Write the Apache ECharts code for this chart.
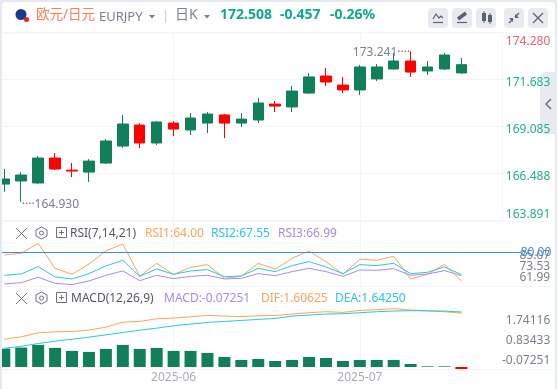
<!DOCTYPE html>
<html>
<head>
<meta charset="utf-8">
<style>html,body{margin:0;padding:0;background:#fff}#main{width:557px;height:389px}</style>
<script src="https://cdn.jsdelivr.net/npm/echarts@6/dist/echarts.min.js"></script>
</head>
<body>
<div id="main"></div>
<script>
// one entry per candle, only the month starts carry a label
var months = ['','','','','','','','','','','2025-06','','','','','','','','','','','2025-07','','','','','',''];
// open, close, low, high
var candles = [
  [165.91,166.19,165.49,166.74],[166.08,166.41,164.93,166.57],[165.97,167.35,165.91,167.46],[167.35,166.74,166.68,167.62],
  [166.68,166.63,166.30,167.07],[166.57,167.18,166.02,167.29],[167.07,168.29,167.02,168.40],[168.01,169.23,167.92,169.73],
  [169.17,168.18,167.90,169.28],[168.18,169.34,168.07,169.39],[169.28,168.95,168.56,169.39],[168.90,169.56,168.62,169.84],
  [169.28,169.78,168.73,169.89],[169.73,169.28,168.45,169.78],[169.28,169.50,169.06,169.84],[169.45,170.39,169.28,170.66],
  [170.33,170.22,169.89,170.50],[170.17,171.05,169.89,171.33],[170.94,171.83,170.90,172.05],[171.88,171.55,171.33,172.32],
  [171.38,171.11,170.94,171.83],[171.11,172.38,170.83,172.49],[171.72,172.38,171.60,172.54],[172.27,172.71,172.24,173.15],
  [172.71,172.10,171.83,173.241],[172.16,172.38,171.94,172.71],[172.27,173.04,172.21,173.15],[172.05,172.508,171.99,172.88]
];
var priceTicks = [163.891,166.488,169.085,171.683,174.280];

var rsi1 = [78.51,79.44,85.03,71.06,67.71,73.48,80.74,84.66,66.59,73.85,67.52,71.62,73.11,65.47,66.59,73.85,70.50,76.65,80.74,74.79,67.71,76.09,75.53,77.77,65.10,67.71,73.30,64.00];
var rsi2 = [67.15,67.90,71.99,66.22,65.10,68.08,72.36,75.53,66.59,70.69,67.71,69.57,70.32,66.41,66.78,71.06,69.20,72.55,74.79,71.81,68.08,73.11,72.55,73.85,68.08,68.83,71.81,67.55];
var rsi3 = [62.31,63.05,66.03,62.68,61.94,63.99,67.15,69.57,64.17,67.15,65.29,66.59,67.15,65.10,65.47,68.08,66.96,69.20,71.06,69.20,66.59,70.13,69.94,70.88,67.15,67.90,69.76,66.99];
var rsiTicks = [61.99,85.07];
var rsiMidTick = [73.53];

var dif = [0.83,0.90,1.02,1.05,1.06,1.10,1.19,1.34,1.36,1.44,1.46,1.50,1.54,1.52,1.50,1.53,1.54,1.58,1.62,1.65,1.63,1.69,1.71,1.74,1.70,1.67,1.65,1.60625];
var dea = [0.56,0.62,0.70,0.77,0.83,0.89,0.96,1.03,1.10,1.16,1.23,1.28,1.33,1.36,1.39,1.42,1.45,1.52,1.55,1.58,1.59,1.62,1.65,1.67,1.68,1.68,1.67,1.6425];
var macd = [0.55,0.58,0.66,0.57,0.48,0.45,0.54,0.66,0.54,0.57,0.48,0.48,0.42,0.30,0.21,0.24,0.18,0.21,0.30,0.27,0.18,0.21,0.21,0.21,0.09,0.02,0.02,-0.07251];
var macdTicks = [-0.07251,0.83433,1.74116];

var GREEN = '#11805a', RED = '#ff0000', GRID = '#f4f5f8', GREY = '#7c7f8e';
var ORANGE = '#ffa35c', CYAN = '#2cc6e0', PURPLE = '#a58ce8', ICON = '#5e6270';
var PRICE_UP = '#e5626f', PRICE_DN = '#1fb08f';
var FONT = '"Noto Sans","Noto Sans CJK SC",sans-serif';

function cats(n) {
  var out = months.slice();
  while (out.length < n) out.push('');
  return out;
}
function txt(s, x, y, color, size, weight) {
  return {type: 'text', z: 20, x: x, y: y, style: {text: s, fill: color, font: (weight || 'normal') + ' ' + (size || 12) + 'px ' + FONT, textVerticalAlign: 'middle'}};
}
function seg(x1, y1, x2, y2, color, w, z) {
  return {type: 'line', z: z || 3, shape: {x1: x1, y1: y1, x2: x2, y2: y2}, style: {stroke: color, lineWidth: w || 1}};
}
function box(x, y, w, h, r, fill, z) {
  return {type: 'rect', z: z || 1, shape: {x: x, y: y, width: w, height: h, r: r}, style: {fill: fill}};
}
function paneIcons(y) {
  return [
    seg(16, y - 5, 27, y + 6, '#6e7180', 1, 20), seg(27, y - 5, 16, y + 6, '#6e7180', 1, 20),
    {type: 'polygon', z: 20, shape: {points: [[41.5, y - 6], [47, y - 3], [47, y + 3], [41.5, y + 6], [36, y + 3], [36, y - 3]]}, style: {fill: 'none', stroke: '#6e7180', lineWidth: 1}},
    {type: 'circle', z: 20, shape: {cx: 41.5, cy: y, r: 2}, style: {fill: 'none', stroke: '#6e7180', lineWidth: 1}},
    {type: 'rect', z: 20, shape: {x: 56.5, y: y - 5.5, width: 10, height: 10}, style: {fill: 'none', stroke: '#6e7180', lineWidth: 1}},
    seg(59, y - 0.5, 64, y - 0.5, '#6e7180', 1, 20), seg(61.5, y - 3, 61.5, y + 2, '#6e7180', 1, 20)
  ];
}

var chrome = [
  // frame of the widget
  {type: 'rect', z: 30, shape: {x: 0, y: 0, width: 557, height: 400, r: 6}, style: {fill: 'none', stroke: '#e6e9f0', lineWidth: 4}},
  // pane separators
  seg(2, 33, 557, 33, GRID), seg(2, 221.5, 557, 221.5, GRID), seg(2, 286.5, 557, 286.5, GRID), seg(2, 369.5, 557, 369.5, GRID),
  seg(502.5, 33, 502.5, 221, GRID),
  // side tab, under the axis labels
  box(540, 72, 17, 62, [6, 0, 0, 6], '#e8eaf0', -1),
  {type: 'polyline', z: 3, shape: {points: [[551, 99], [546, 104], [551, 109]]}, style: {fill: 'none', stroke: '#6e7180', lineWidth: 1.5}},
  // header
  {type: 'circle', z: 20, shape: {cx: 21, cy: 14.5, r: 5.5}, style: {fill: '#1b3a8f'}},
  {type: 'circle', z: 20, shape: {cx: 26.5, cy: 19.5, r: 2.5}, style: {fill: '#ff1a1a'}},
  txt('欧元/日元', 36, 15.5, '#ff7d5c', 13.5),
  txt('EURJPY', 99, 17, GREY, 13),
  {type: 'polygon', z: 20, shape: {points: [[149, 15], [155, 15], [152, 18.5]]}, style: {fill: GREY}},
  seg(165.5, 10, 165.5, 23, '#c9ccd6'),
  txt('日K', 175, 15.5, GREY, 14),
  {type: 'polygon', z: 20, shape: {points: [[204, 15], [210, 15], [207, 18.5]]}, style: {fill: GREY}},
  txt('172.508', 220, 15.5, '#12a88a', 14, 'bold'),
  txt('-0.457', 280, 15.5, '#12a88a', 14, 'bold'),
  txt('-0.26%', 330, 15.5, '#12a88a', 14, 'bold'),
  // toolbar
  box(428, 8, 20, 20, 4, '#e8eaf0'), box(452, 8, 20, 20, 4, '#e8eaf0'), box(476, 8, 20, 20, 4, '#e8eaf0'),
  box(504, 8, 20, 20, 4, '#e8eaf0'), box(528, 8, 20, 20, 4, '#e8eaf0'),
  {type: 'polyline', z: 3, shape: {points: [[433, 19], [436, 14], [439, 18], [441, 16], [443, 18]]}, style: {fill: 'none', stroke: ICON, lineWidth: 1.2}},
  seg(433, 22.5, 443, 22.5, ICON, 1.2),
  seg(458, 19, 466, 13, ICON, 3.5), seg(457, 22.5, 467, 22.5, ICON, 1.2),
  box(482, 13, 4, 8, 0, ICON, 3), seg(484, 11, 484, 23, ICON), box(488, 15, 4, 7, 0, ICON, 3), seg(490, 13, 490, 24, ICON),
  seg(509, 23, 513, 19, ICON, 1.5), seg(519, 13, 515, 17, ICON, 1.5),
  {type: 'polygon', z: 3, shape: {points: [[515, 14], [515, 18], [519, 18]]}, style: {fill: ICON}},
  {type: 'polygon', z: 3, shape: {points: [[513, 22], [513, 18], [509, 18]]}, style: {fill: ICON}},
  seg(533, 13, 543, 23, ICON, 1.2), seg(543, 13, 533, 23, ICON, 1.2),
  // pane legends
  txt('RSI(7,14,21)', 70, 233.5, '#555766'),
  txt('RSI1:64.00', 145, 233.5, ORANGE), txt('RSI2:67.55', 211, 233.5, CYAN), txt('RSI3:66.99', 278, 233.5, PURPLE),
  txt('MACD(12,26,9)', 71, 298.5, '#555766'),
  txt('MACD:-0.07251', 164, 298.5, PURPLE), txt('DIF:1.60625', 261, 298.5, ORANGE), txt('DEA:1.64250', 335, 298.5, CYAN)
].concat(paneIcons(233), paneIcons(298));

var xBase = {
  type: 'category', boundaryGap: true,
  axisLine: {show: false}, axisTick: {show: false, alignWithLabel: true},
  axisLabel: {show: false},
  splitLine: {show: true, alignWithLabel: true, lineStyle: {color: GRID}, interval: function (i) { return i === 10 || i === 21; }}
};
function labelAxis(grid, lo, hi, ticks, digits, margin) {
  return {
    type: 'value', gridIndex: grid, position: 'right', min: lo, max: hi, scale: true,
    axisLine: {show: false}, axisTick: {show: false}, splitLine: {show: false},
    axisLabel: {customValues: ticks, showMinLabel: true, showMaxLabel: true, hideOverlap: false, color: GREY, fontSize: 12, fontFamily: FONT, margin: margin, align: 'right',
      formatter: function (v) { return v.toFixed(digits); }}
  };
}
function hiddenAxis(grid, lo, hi) {
  return {type: 'value', gridIndex: grid, position: 'right', min: lo, max: hi, scale: true, show: false, splitLine: {show: false}};
}
function rsiLine(name, data, color) {
  return {name: name, type: 'line', xAxisIndex: 1, yAxisIndex: 1, data: data, symbol: 'none', lineStyle: {color: color, width: 1}, z: 3};
}

var chart = echarts.init(document.getElementById('main'));
chart.setOption({
  animation: false,
  backgroundColor: '#fff',
  textStyle: {fontFamily: FONT},
  graphic: {elements: chrome},
  grid: [
    {left: -4.16, width: 507.9, top: 32.6, height: 188, outerBoundsMode: 'none'},
    {left: -4.16, width: 524.83, top: 222, height: 64, outerBoundsMode: 'none'},
    {left: -4.16, width: 507.9, top: 287, height: 83, outerBoundsMode: 'none'}
  ],
  xAxis: [
    Object.assign({}, xBase, {gridIndex: 0, data: cats(30)}),
    Object.assign({}, xBase, {gridIndex: 1, data: cats(31)}),
    Object.assign({}, xBase, {gridIndex: 2, data: cats(30),
      axisLabel: {show: true, interval: 0, color: '#a9abb8', fontSize: 12, fontFamily: FONT, margin: 2}})
  ],
  yAxis: [
    {
      type: 'value', gridIndex: 0, position: 'right', min: 163.891, max: 174.280, scale: true,
      axisLine: {show: false}, axisTick: {show: false, customValues: priceTicks},
      splitLine: {show: true, lineStyle: {color: GRID}},
      axisLabel: {
        customValues: priceTicks, fontSize: 12, fontFamily: FONT, margin: 46.5, align: 'right',
        verticalAlignMinLabel: 'bottom', verticalAlignMaxLabel: 'top',
        rich: {
          t: {color: PRICE_UP, fontSize: 12, fontFamily: FONT, padding: [3, 0, 0, 0]},
          m: {color: PRICE_DN, fontSize: 12, fontFamily: FONT, padding: [5, 0, 0, 0]},
          b: {color: PRICE_DN, fontSize: 12, fontFamily: FONT}
        },
        formatter: function (v) {
          var key = v > 174 ? 't' : (v < 164 ? 'b' : 'm');
          return '{' + key + '|' + v.toFixed(3) + '}';
        }
      }
    },
    hiddenAxis(1, 61.17, 96.93),
    labelAxis(1, 53.6, 120.8, rsiTicks, 2, 29.5),
    hiddenAxis(2, -0.0896, 2.388),
    labelAxis(2, -0.49, 3.236, macdTicks, 5, 46.5),
    // the middle RSI label gets dropped when it shares an axis with the two others
    labelAxis(1, 53.6, 120.8, rsiMidTick, 2, 29.5)
  ],
  series: [
    {
      name: 'EURJPY', type: 'candlestick', xAxisIndex: 0, yAxisIndex: 0, data: candles, barWidth: 11, z: 3,
      itemStyle: {color: GREEN, color0: RED, borderColor: GREEN, borderColor0: RED, borderWidth: 1},
      markPoint: {
        symbol: 'circle', symbolSize: 1, silent: true, itemStyle: {color: 'transparent'},
        data: [
          {coord: [24, 173.241], label: {show: true, position: 'left', distance: 0, formatter: '173.241····', color: GREY, fontSize: 12, fontFamily: FONT, offset: [0, 1]}},
          {coord: [1, 164.93], label: {show: true, position: 'right', distance: 0, formatter: '····164.930', color: GREY, fontSize: 12, fontFamily: FONT, offset: [0, 3]}}
        ]
      }
    },
    rsiLine('RSI1', rsi1, ORANGE),
    Object.assign(rsiLine('RSI2', rsi2, CYAN), {
      markLine: {
        silent: true, symbol: 'none', data: [{yAxis: 80}],
        lineStyle: {color: '#3a8fd9', width: 1, type: 'solid'},
        label: {show: true, position: 'end', distance: 0, color: '#3a8fd9', fontSize: 12, fontFamily: FONT, formatter: '80.00'}
      }
    }),
    rsiLine('RSI3', rsi3, PURPLE),
    {name: 'DIF', type: 'line', xAxisIndex: 2, yAxisIndex: 3, data: dif, symbol: 'none', lineStyle: {color: ORANGE, width: 1}, z: 3},
    {name: 'DEA', type: 'line', xAxisIndex: 2, yAxisIndex: 3, data: dea, symbol: 'none', lineStyle: {color: CYAN, width: 1}, z: 3},
    {
      name: 'MACD', type: 'bar', xAxisIndex: 2, yAxisIndex: 3, data: macd, barWidth: 12, z: 2,
      itemStyle: {color: function (p) { return p.value < 0 ? RED : GREEN; }}
    }
  ]
});
</script>
</body>
</html>
